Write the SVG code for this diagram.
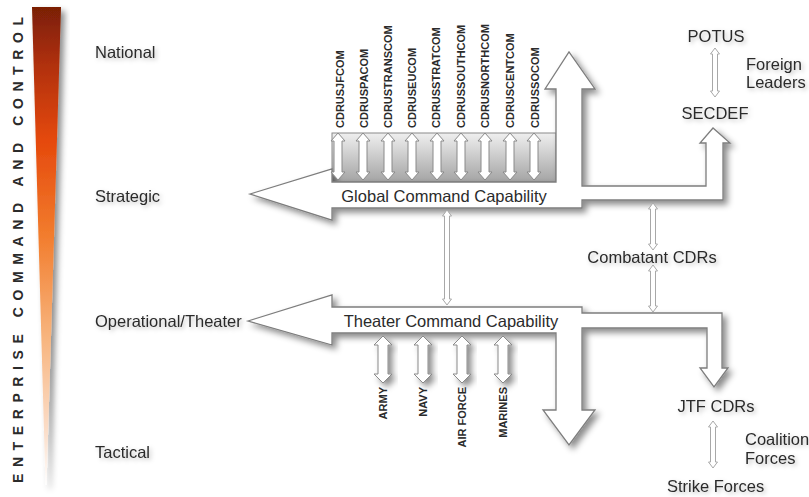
<svg xmlns="http://www.w3.org/2000/svg" width="809" height="497" viewBox="0 0 809 497">
<defs>
<style>
.lbl{font-family:"Liberation Sans",Arial,sans-serif;font-size:16.5px;fill:#2b2b2b}
.vl{font-family:"Liberation Sans",Arial,sans-serif;font-size:11px;font-weight:bold;fill:#2b2b2b}
.big{fill:#fff;stroke:#7d7d7d;stroke-width:1.3;stroke-linejoin:miter}
.da{fill:#fff;stroke:#8a8a8a;stroke-width:1}
.thin{fill:#fff;stroke:#a8a8a8;stroke-width:1}
</style>
<filter id="sh" x="-20%" y="-20%" width="150%" height="150%">
<feDropShadow dx="4" dy="4" stdDeviation="3" flood-color="#000" flood-opacity="0.45"/>
</filter>
<filter id="tsh" x="-20%" y="-40%" width="150%" height="200%">
<feDropShadow dx="2" dy="2" stdDeviation="2" flood-color="#000" flood-opacity="0.25"/>
</filter>
<linearGradient id="wedge" x1="0" y1="0" x2="0" y2="1">
<stop offset="0" stop-color="#7a1f06"/>
<stop offset="0.12" stop-color="#b0300a"/>
<stop offset="0.28" stop-color="#e5490c"/>
<stop offset="0.48" stop-color="#f27d2e"/>
<stop offset="0.68" stop-color="#f7b27a"/>
<stop offset="0.88" stop-color="#fbdcc6"/>
<stop offset="1" stop-color="#ffffff"/>
</linearGradient>
<linearGradient id="box" x1="0" y1="0" x2="0" y2="1">
<stop offset="0" stop-color="#efefef"/>
<stop offset="1" stop-color="#a4a4a4"/>
</linearGradient>
<path id="daTop" class="da" d="M0,0 L7,8 L4,8 L4,39 L7,39 L0,47 L-7,39 L-4,39 L-4,8 L-7,8 Z"/>
<path id="daBot" class="da" d="M0,0 L9,9 L5,9 L5,38 L9,38 L0,47 L-9,38 L-5,38 L-5,9 L-9,9 Z"/>
</defs>
<rect width="809" height="497" fill="#fff"/>

<g id="enterprise-bar">
<polygon points="32,7 61,7 46.5,485 45.5,485" fill="url(#wedge)" filter="url(#sh)"/>
<text class="vl" transform="translate(23,483) rotate(-90)" style="font-size:14px" textLength="466" lengthAdjust="spacing">ENTERPRISE COMMAND AND CONTROL</text>
</g>

<g id="levels" filter="url(#tsh)">
<text class="lbl" x="95" y="58">National</text>
<text class="lbl" x="95" y="202">Strategic</text>
<text class="lbl" x="95" y="327">Operational/Theater</text>
<text class="lbl" x="95" y="458">Tactical</text>
</g>

<g id="global-command">
<rect x="332" y="133" width="224" height="49" fill="url(#box)" stroke="#8a8a8a" stroke-width="1"/>
<path class="big" filter="url(#sh)" d="M250,194 L332,169 L332,182 L556,182 L556,89 L545,89 L569,52 L595,89 L582,89 L582,186 L706,186 L706,143 L700,143 L713,128 L730,143 L723,143 L723,200 L582,200 L582,208 L332,208 L332,220 Z"/>
<text class="lbl" x="444" y="202" text-anchor="middle">Global Command Capability</text>
</g>

<g id="combatant-commands">
<use href="#daTop" x="338" y="133"/>
<use href="#daTop" x="363" y="133"/>
<use href="#daTop" x="388" y="133"/>
<use href="#daTop" x="412" y="133"/>
<use href="#daTop" x="437" y="133"/>
<use href="#daTop" x="461" y="133"/>
<use href="#daTop" x="485" y="133"/>
<use href="#daTop" x="510" y="133"/>
<use href="#daTop" x="534" y="133"/>
<text class="vl" transform="translate(344,128) rotate(-90)">CDRUSJFCOM</text>
<text class="vl" transform="translate(368,128) rotate(-90)">CDRUSPACOM</text>
<text class="vl" transform="translate(392,128) rotate(-90)">CDRUSTRANSCOM</text>
<text class="vl" transform="translate(416,128) rotate(-90)">CDRUSEUCOM</text>
<text class="vl" transform="translate(440,128) rotate(-90)">CDRUSSTRATCOM</text>
<text class="vl" transform="translate(465,128) rotate(-90)">CDRUSSOUTHCOM</text>
<text class="vl" transform="translate(489,128) rotate(-90)">CDRUSNORTHCOM</text>
<text class="vl" transform="translate(514,128) rotate(-90)">CDRUSCENTCOM</text>
<text class="vl" transform="translate(539,128) rotate(-90)">CDRUSSOCOM</text>
</g>

<g id="theater-command">
<path class="big" filter="url(#sh)" d="M248,321 L332,295 L332,307 L582,307 L582,313 L722,313 L722,368 L728,368 L714,387 L700,368 L707,368 L707,328 L582,328 L582,410 L595,410 L569,445 L543,410 L556,410 L556,333 L332,333 L332,345 Z"/>
<text class="lbl" x="451" y="327" text-anchor="middle">Theater Command Capability</text>
</g>

<g id="services">
<use href="#daBot" x="383" y="336" filter="url(#sh)"/>
<use href="#daBot" x="423" y="336" filter="url(#sh)"/>
<use href="#daBot" x="462" y="336" filter="url(#sh)"/>
<use href="#daBot" x="503" y="336" filter="url(#sh)"/>
<text class="vl" transform="translate(387,387) rotate(-90)" text-anchor="end">ARMY</text>
<text class="vl" transform="translate(427,387) rotate(-90)" text-anchor="end">NAVY</text>
<text class="vl" transform="translate(466,387) rotate(-90)" text-anchor="end">AIR FORCE</text>
<text class="vl" transform="translate(507,387) rotate(-90)" text-anchor="end">MARINES</text>
</g>

<g id="potus" filter="url(#tsh)"><text class="lbl" x="716" y="42" text-anchor="middle">POTUS</text></g>
<g id="foreign-leaders" filter="url(#tsh)"><text class="lbl" x="746" y="70">Foreign</text><text class="lbl" x="746" y="88">Leaders</text></g>
<g id="secdef" filter="url(#tsh)"><text class="lbl" x="715" y="119" text-anchor="middle">SECDEF</text></g>
<g id="combatant-cdrs" filter="url(#tsh)"><text class="lbl" x="652" y="263" text-anchor="middle">Combatant CDRs</text></g>
<g id="jtf-cdrs" filter="url(#tsh)"><text class="lbl" x="716" y="412" text-anchor="middle">JTF CDRs</text></g>
<g id="coalition-forces" filter="url(#tsh)"><text class="lbl" x="745" y="445">Coalition</text><text class="lbl" x="745" y="464">Forces</text></g>
<g id="strike-forces" filter="url(#tsh)"><text class="lbl" x="667" y="492">Strike Forces</text></g>

<g id="connectors">
<path class="thin" d="M715,48 L719.5,54 L717.5,54 L717.5,91 L719.5,91 L715,97 L710.5,91 L712.5,91 L712.5,54 L710.5,54 Z"/>
<path class="thin" d="M447,210 L451.5,216 L449.5,216 L449.5,299 L451.5,299 L447,305 L442.5,299 L444.5,299 L444.5,216 L442.5,216 Z"/>
<path class="thin" d="M653,203 L657.5,209 L655.5,209 L655.5,244 L657.5,244 L653,250 L648.5,244 L650.5,244 L650.5,209 L648.5,209 Z"/>
<path class="thin" d="M653,265 L657.5,271 L655.5,271 L655.5,306 L657.5,306 L653,312 L648.5,306 L650.5,306 L650.5,271 L648.5,271 Z"/>
<path class="thin" d="M713,421 L717.5,427 L715.5,427 L715.5,462 L717.5,462 L713,468 L708.5,462 L710.5,462 L710.5,427 L708.5,427 Z"/>
</g>
</svg>
